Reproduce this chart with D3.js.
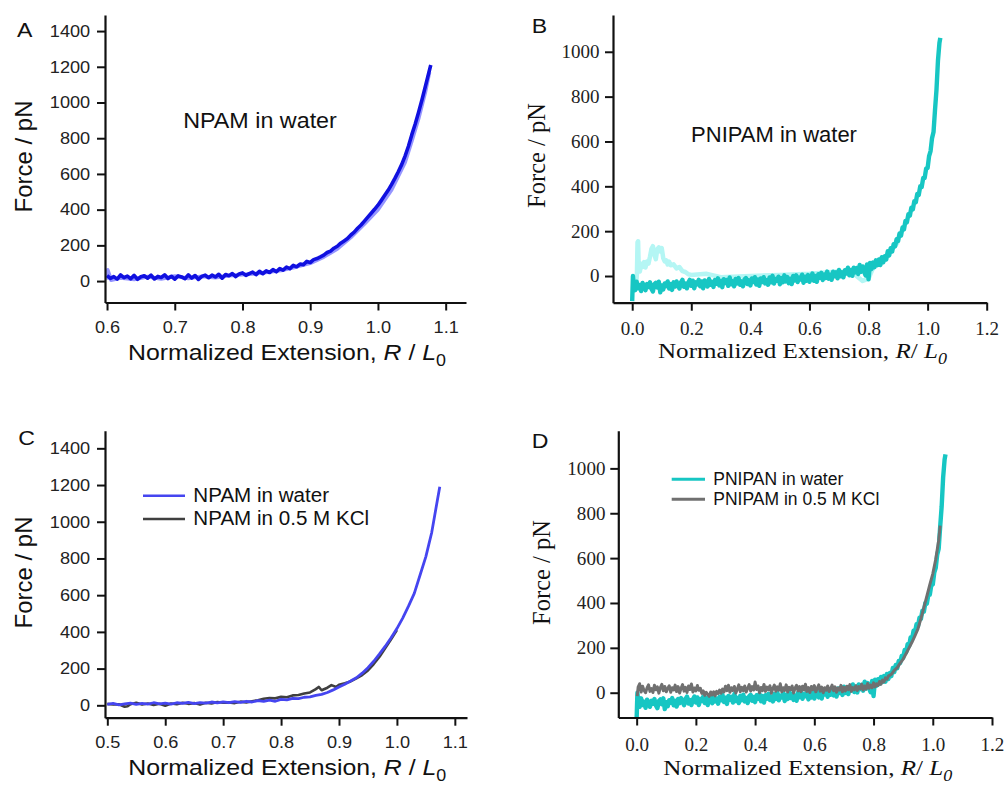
<!DOCTYPE html>
<html><head><meta charset="utf-8">
<script src="https://cdn.jsdelivr.net/npm/d3@7"></script>
<style>body{margin:0;background:#fff}svg{display:block}</style>
</head><body><svg id="c" width="1008" height="785"></svg>
<script>
// ---------------- data ----------------
const yTicksNPAM = [0, 200, 400, 600, 800, 1000, 1200, 1400];
const yTicksPNIPAM = [0, 200, 400, 600, 800, 1000];
const xTicksA = [0.6, 0.7, 0.8, 0.9, 1.0, 1.1];
const xTicksC = [0.5, 0.6, 0.7, 0.8, 0.9, 1.0, 1.1];
const xTicksBD = [0.0, 0.2, 0.4, 0.6, 0.8, 1.0, 1.2];

// Panel A: NPAM in water (two traces)
const npamWaterA = [[0.600,31],[0.605,15],[0.610,25],[0.615,11],[0.620,34],[0.625,19],[0.630,28],[0.635,13],[0.640,32],[0.645,10],[0.650,24],[0.655,30],[0.660,16],[0.665,33],[0.670,12],[0.675,26],[0.680,20],[0.685,35],[0.690,14],[0.695,27],[0.700,11],[0.705,29],[0.710,23],[0.715,13],[0.720,35],[0.725,17],[0.730,31],[0.735,9],[0.740,26],[0.745,33],[0.750,19],[0.755,33],[0.760,23],[0.765,38],[0.770,16],[0.775,37],[0.780,30],[0.785,42],[0.790,25],[0.795,40],[0.800,46],[0.805,32],[0.810,42],[0.815,50],[0.820,36],[0.825,55],[0.830,41],[0.835,57],[0.840,48],[0.845,64],[0.850,52],[0.855,70],[0.860,61],[0.865,78],[0.870,70],[0.875,88],[0.880,80],[0.885,95],[0.890,92],[0.895,110],[0.900,104],[0.905,120],[0.910,126],[0.915,135],[0.920,145],[0.925,160],[0.930,168],[0.935,184],[0.940,195],[0.945,212],[0.950,225],[0.955,238],[0.960,258],[0.965,274],[0.970,296],[0.975,314],[0.980,336],[0.985,358],[0.990,380],[0.995,402],[1.000,425],[1.005,452],[1.010,480],[1.015,508],[1.020,540],[1.025,575],[1.030,612],[1.035,652],[1.040,700],[1.045,755],[1.050,820],[1.055,880],[1.060,945],[1.065,1015],[1.070,1090],[1.075,1165],[1.078,1210]];
const npamWaterA2 = [[0.600,8],[0.601,62],[0.603,40],[0.606,5],[0.620,18],[0.640,10],[0.660,25],[0.680,12],[0.700,28],[0.720,15],[0.740,26],[0.760,20],[0.780,30],[0.800,36],[0.820,42],[0.840,52],[0.860,62],[0.880,80],[0.900,100],[0.920,135],[0.940,180],[0.960,245],[0.980,320],[1.000,400],[1.020,510],[1.040,665],[1.050,785],[1.060,910],[1.070,1060],[1.076,1170]];

// Panel B / D: PNIPAM in water
const pnipamWater = [[0.000,-112],[0.0025,0],[0.005,-33],[0.010,-63],[0.015,-25],[0.020,-55],[0.025,-40],[0.030,-67],[0.035,-31],[0.040,-43],[0.045,-63],[0.050,-36],[0.055,-49],[0.060,-28],[0.065,-57],[0.070,-69],[0.075,-37],[0.080,-30],[0.085,-51],[0.090,-25],[0.095,-73],[0.100,-42],[0.105,-60],[0.110,-33],[0.115,-45],[0.120,-24],[0.125,-56],[0.130,-36],[0.135,-62],[0.140,-28],[0.145,-47],[0.150,-24],[0.155,-40],[0.160,-56],[0.165,-28],[0.170,-17],[0.175,-48],[0.180,-33],[0.185,-55],[0.190,-29],[0.195,-17],[0.200,-44],[0.205,-21],[0.210,-55],[0.215,-28],[0.220,-37],[0.225,-17],[0.230,-46],[0.235,-24],[0.240,-55],[0.245,-20],[0.250,-31],[0.255,-47],[0.260,-13],[0.265,-39],[0.270,-26],[0.275,-49],[0.280,-18],[0.285,-34],[0.290,-10],[0.295,-42],[0.300,-22],[0.305,-50],[0.310,-14],[0.315,-31],[0.320,-18],[0.325,-44],[0.330,-6],[0.335,-37],[0.340,-23],[0.345,-46],[0.350,-13],[0.355,-33],[0.360,-9],[0.365,-39],[0.370,-24],[0.375,-46],[0.380,-16],[0.385,-9],[0.390,-36],[0.395,-19],[0.400,-42],[0.405,-11],[0.410,-27],[0.415,-5],[0.420,-38],[0.425,-15],[0.430,-44],[0.435,-11],[0.440,-27],[0.445,-5],[0.450,-33],[0.455,-18],[0.460,-39],[0.465,-6],[0.470,-28],[0.475,1],[0.480,-34],[0.485,-13],[0.490,-21],[0.495,-3],[0.500,-37],[0.505,-9],[0.510,-28],[0.515,3],[0.520,-24],[0.525,-5],[0.530,-32],[0.535,-12],[0.540,-36],[0.545,0],[0.550,-20],[0.555,3],[0.560,-27],[0.565,-7],[0.570,-15],[0.575,6],[0.580,-30],[0.585,-3],[0.590,-21],[0.595,4],[0.600,-26],[0.605,-6],[0.610,11],[0.615,-21],[0.620,0],[0.625,-26],[0.630,8],[0.635,-8],[0.640,14],[0.645,-18],[0.650,7],[0.655,-9],[0.660,20],[0.665,-12],[0.670,6],[0.675,-17],[0.680,19],[0.685,-1],[0.690,17],[0.695,-10],[0.700,27],[0.705,-1],[0.710,17],[0.715,-6],[0.720,26],[0.725,11],[0.730,37],[0.735,3],[0.740,27],[0.745,1],[0.750,37],[0.755,16],[0.760,36],[0.765,9],[0.770,49],[0.775,19],[0.780,43],[0.785,19],[0.790,2],[0.795,52],[0.800,-15],[0.805,58],[0.810,31],[0.815,60],[0.820,39],[0.825,70],[0.830,48],[0.835,74],[0.840,49],[0.845,84],[0.850,61],[0.855,88],[0.860,74],[0.865,110],[0.870,92],[0.875,124],[0.880,109],[0.885,142],[0.890,133],[0.895,164],[0.900,156],[0.905,190],[0.910,180],[0.915,216],[0.920,208],[0.925,246],[0.930,240],[0.935,276],[0.940,270],[0.945,305],[0.950,297],[0.955,334],[0.960,329],[0.965,366],[0.970,362],[0.975,400],[0.980,397],[0.985,437],[0.990,437],[0.995,479],[1.000,482],[1.005,535],[1.010,557],[1.015,615],[1.020,642],[1.025,740],[1.030,830],[1.035,960],[1.040,1040],[1.043,1062]];
const pnipamWater2 = [[0.012,-60],[0.016,10],[0.018,150],[0.020,155],[0.022,40],[0.026,20],[0.030,55],[0.035,40],[0.040,62],[0.045,38],[0.050,65],[0.055,55],[0.060,85],[0.065,120],[0.070,133],[0.075,95],[0.080,75],[0.085,120],[0.090,128],[0.095,110],[0.100,125],[0.105,80],[0.110,65],[0.115,70],[0.120,52],[0.125,64],[0.130,48],[0.140,52],[0.150,34],[0.160,40],[0.170,22],[0.180,18],[0.190,8],[0.200,5],[0.250,10],[0.300,-5],[0.400,0],[0.500,5],[0.600,10],[0.700,20],[0.750,10],[0.780,-22],[0.800,-12],[0.820,50],[0.860,90],[0.900,150]];

// Panel C: NPAM in 0.5 M KCl vs water
const npamWaterC = [[0.50,5],[0.51,10],[0.52,3],[0.53,8],[0.54,12],[0.55,5],[0.56,10],[0.57,6],[0.58,14],[0.59,8],[0.60,12],[0.61,6],[0.62,14],[0.63,10],[0.64,16],[0.65,9],[0.66,15],[0.67,12],[0.68,18],[0.69,13],[0.70,19],[0.71,14],[0.72,20],[0.73,16],[0.74,22],[0.75,18],[0.76,25],[0.77,21],[0.78,28],[0.79,22],[0.80,32],[0.81,30],[0.82,38],[0.83,36],[0.84,44],[0.85,46],[0.86,54],[0.87,60],[0.88,70],[0.89,84],[0.90,100],[0.91,115],[0.92,132],[0.93,150],[0.94,175],[0.95,205],[0.96,240],[0.97,280],[0.98,322],[0.99,368],[1.00,418],[1.01,475],[1.02,540],[1.03,610],[1.04,710],[1.05,810],[1.055,875],[1.06,940],[1.065,1030],[1.07,1120],[1.074,1190]];
const npamKClC = [[0.50,8],[0.51,4],[0.52,6],[0.53,-8],[0.535,-5],[0.54,6],[0.55,14],[0.56,4],[0.57,10],[0.58,2],[0.59,8],[0.60,-2],[0.61,10],[0.62,6],[0.63,14],[0.64,8],[0.65,12],[0.66,4],[0.67,14],[0.68,10],[0.69,18],[0.70,14],[0.71,16],[0.72,12],[0.73,20],[0.74,16],[0.75,22],[0.76,28],[0.77,36],[0.78,40],[0.79,38],[0.80,46],[0.81,44],[0.82,54],[0.83,56],[0.84,64],[0.85,70],[0.86,88],[0.865,100],[0.87,82],[0.88,96],[0.887,110],[0.895,100],[0.90,112],[0.91,120],[0.92,130],[0.93,147],[0.94,165],[0.95,190],[0.96,225],[0.97,265],[0.98,312],[0.99,360],[1.00,410]];

// Panel D: PNIPAM in 0.5 M KCl
const pnipamKCl = [[0.002,-15],[0.005,25],[0.010,40],[0.015,3],[0.020,29],[0.025,10],[0.030,0],[0.035,21],[0.040,35],[0.045,6],[0.050,18],[0.055,1],[0.060,33],[0.065,13],[0.070,26],[0.075,-2],[0.080,23],[0.085,37],[0.090,9],[0.095,28],[0.100,4],[0.105,19],[0.110,31],[0.115,2],[0.120,22],[0.125,12],[0.130,34],[0.135,5],[0.140,27],[0.145,-1],[0.150,20],[0.155,36],[0.160,7],[0.165,24],[0.170,1],[0.175,30],[0.180,14],[0.185,39],[0.190,3],[0.195,21],[0.200,8],[0.205,32],[0.210,11],[0.215,20],[0.220,-3],[0.225,8],[0.230,-12],[0.235,2],[0.240,-8],[0.245,-16],[0.250,3],[0.255,-10],[0.260,4],[0.265,-14],[0.270,6],[0.275,-4],[0.280,12],[0.285,-2],[0.290,16],[0.295,4],[0.300,29],[0.305,9],[0.310,33],[0.315,2],[0.320,22],[0.325,10],[0.330,28],[0.335,-1],[0.340,17],[0.345,35],[0.350,5],[0.355,24],[0.360,9],[0.365,30],[0.370,3],[0.375,20],[0.380,36],[0.385,8],[0.390,27],[0.395,12],[0.400,48],[0.405,14],[0.410,30],[0.415,0],[0.420,23],[0.425,9],[0.430,37],[0.435,6],[0.440,25],[0.445,13],[0.450,31],[0.455,-2],[0.460,19],[0.465,34],[0.470,7],[0.475,26],[0.480,11],[0.485,40],[0.490,4],[0.495,22],[0.500,10],[0.505,35],[0.510,3],[0.515,24],[0.520,13],[0.525,30],[0.530,-1],[0.535,21],[0.540,33],[0.545,8],[0.550,27],[0.555,5],[0.560,29],[0.565,12],[0.570,38],[0.575,6],[0.580,23],[0.585,1],[0.590,28],[0.595,14],[0.600,32],[0.605,4],[0.610,20],[0.615,35],[0.620,7],[0.625,25],[0.630,0],[0.635,22],[0.640,11],[0.645,30],[0.650,5],[0.655,18],[0.660,34],[0.665,9],[0.670,26],[0.675,2],[0.680,21],[0.685,12],[0.690,33],[0.695,4],[0.700,24],[0.705,8],[0.710,29],[0.715,14],[0.720,36],[0.725,6],[0.730,23],[0.735,13],[0.740,31],[0.745,10],[0.750,27],[0.755,17],[0.760,38],[0.765,12],[0.770,30],[0.775,16],[0.780,41],[0.785,20],[0.790,34],[0.795,22],[0.800,44],[0.805,26],[0.810,40],[0.815,32],[0.820,50],[0.825,38],[0.830,56],[0.835,48],[0.840,66],[0.845,60],[0.850,74],[0.860,82],[0.870,100],[0.880,112],[0.890,132],[0.900,150],[0.910,175],[0.920,200],[0.930,226],[0.940,255],[0.950,285],[0.960,330],[0.970,380],[0.980,430],[0.990,482],[1.000,530],[1.010,595],[1.020,680],[1.025,745]];

const legendC = ["NPAM in water", "NPAM in 0.5 M KCl"];
const legendD = ["PNIPAN in water", "PNIPAM in 0.5 M KCl"];

// ---------------- drawing ----------------
const SANS = "'Liberation Sans', Arial, Helvetica, sans-serif";
const SERIF = "'Liberation Serif', 'Times New Roman', serif";
const svg = d3.select("#c");

function label(x, y, str, o) {
  o = o || {};
  const t = svg.append("text")
    .attr("transform", `translate(${x},${y})` + (o.rot ? ` rotate(${o.rot})` : "") + ` scale(${o.sx || 1},1)`)
    .attr("font-family", o.font || SANS)
    .attr("font-size", o.size || 20)
    .attr("text-anchor", o.anchor || "start")
    .attr("fill", "#111");
  if (typeof str === "string") t.text(str);
  return t;
}

function extTitle(x, y, o, serif) {
  const t = label(x, y, null, o);
  t.append("tspan").text("Normalized Extension, ");
  t.append("tspan").attr("font-style", "italic").text("R");
  t.append("tspan").text(serif ? "/ " : " / ");
  t.append("tspan").attr("font-style", "italic").text("L");
  t.append("tspan").attr("dy", 6).attr("font-size", "72%").attr("font-style", serif ? "italic" : "normal").text("0");
}

function panel(p) {
  const x = d3.scaleLinear().domain(p.xDomain).range(p.xRange);
  const y = d3.scaleLinear().domain(p.yDomain).range(p.yRange);
  const g = svg.append("g");
  const clipId = "clip" + p.id;
  svg.append("clipPath").attr("id", clipId).append("rect")
    .attr("x", p.xRange[0]).attr("y", p.yRange[1])
    .attr("width", p.xRange[1] - p.xRange[0]).attr("height", p.yRange[0] - p.yRange[1]);

  const line = d3.line().x(d => x(d[0])).y(d => y(d[1]));
  const plot = g.append("g").attr("clip-path", `url(#${clipId})`);
  p.series.forEach(s => {
    plot.append("path").datum(s.data)
      .attr("d", line).attr("fill", "none")
      .attr("stroke", s.color).attr("stroke-width", s.width)
      .attr("stroke-opacity", s.opacity || 1)
      .attr("stroke-linejoin", "round");
  });

  const xa = g.append("g").attr("transform", `translate(0,${p.yRange[0]})`)
    .call(d3.axisBottom(x).tickValues(p.xTicks).tickSize(8).tickSizeOuter(0)
      .tickPadding(p.xPad).tickFormat(d3.format(".1f")));
  const ya = g.append("g").attr("transform", `translate(${p.xRange[0]},0)`)
    .call(d3.axisLeft(y).tickValues(p.yTicks).tickSize(8).tickSizeOuter(0)
      .tickPadding(p.yPad).tickFormat(d3.format("d")));
  [xa, ya].forEach(a => {
    a.select(".domain").attr("stroke", "#111").attr("stroke-width", 2.2);
    a.selectAll(".tick line").attr("stroke", "#111").attr("stroke-width", 2);
    a.selectAll(".tick text").attr("font-family", p.tickFont).attr("font-size", p.tickSize)
      .attr("fill", "#222").attr("transform", `scale(${p.tickSx},1)`);
  });
}

// Panel A
panel({id: "A", xDomain: [0.597, 1.13], xRange: [105, 466], yDomain: [-120, 1490], yRange: [302.5, 15],
  xTicks: xTicksA, yTicks: yTicksNPAM, tickFont: SANS, tickSize: 16.5, tickSx: 1.1, xPad: 11, yPad: 5.5,
  series: [{data: npamWaterA2, color: "#8a8aff", width: 3.8, opacity: 0.9},
           {data: npamWaterA, color: "#1010e0", width: 3.6}]});
// Panel B
panel({id: "B", xDomain: [-0.065, 1.2], xRange: [613, 986.7], yDomain: [-119, 1164], yRange: [302.7, 15],
  xTicks: xTicksBD, yTicks: yTicksPNIPAM, tickFont: SERIF, tickSize: 18.5, tickSx: 1.03, xPad: 11, yPad: 5,
  series: [{data: pnipamWater2, color: "#b4f6f4", width: 4.5},
           {data: pnipamWater, color: "#17c6c3", width: 4.4}]});
// Panel C
panel({id: "C", xDomain: [0.496, 1.121], xRange: [105, 467], yDomain: [-67.5, 1496], yRange: [717.7, 430.7],
  xTicks: xTicksC, yTicks: yTicksNPAM, tickFont: SANS, tickSize: 16.5, tickSx: 1.1, xPad: 11, yPad: 5.5,
  series: [{data: npamKClC, color: "#404040", width: 2.6},
           {data: npamWaterC, color: "#4545f0", width: 2.8}]});
// Panel D
panel({id: "D", xDomain: [-0.062, 1.2], xRange: [618.3, 992], yDomain: [-110.5, 1168], yRange: [717.5, 430.7],
  xTicks: xTicksBD, yTicks: yTicksPNIPAM, tickFont: SERIF, tickSize: 18.5, tickSx: 1.03, xPad: 12, yPad: 4.5,
  series: [{data: pnipamWater, color: "#17c6c3", width: 4.4},
           {data: pnipamKCl, color: "#707070", width: 3}]});

// Panel letters
label(17, 36.7, "A", {size: 21, sx: 1.1});
label(531.7, 33.3, "B", {size: 21, sx: 1.1});
label(18.3, 445, "C", {size: 21, sx: 1.1});
label(531.7, 448.3, "D", {size: 21, sx: 1.1});

// Axis titles
extTitle(128, 360, {size: 22, sx: 1.13}, false);
label(31.5, 156.5, "Force / pN", {size: 24, rot: -90, anchor: "middle"});
extTitle(658, 358.3, {size: 22, sx: 1.14, font: SERIF}, true);
label(545, 155.5, "Force / pN", {size: 24.5, rot: -90, anchor: "middle", font: SERIF});
extTitle(128.3, 775, {size: 22, sx: 1.13}, false);
label(31.5, 572.5, "Force / pN", {size: 24, rot: -90, anchor: "middle"});
extTitle(663.3, 775, {size: 22, sx: 1.14, font: SERIF}, true);
label(550, 572.5, "Force / pN", {size: 24.5, rot: -90, anchor: "middle", font: SERIF});

// Annotations
label(260, 127.7, "NPAM in water", {size: 22, anchor: "middle", sx: 1.06});
label(774, 141.7, "PNIPAM in water", {size: 22, anchor: "middle"});

// Legends
const legC = [{y: 495.7, color: "#4545f0"}, {y: 519, color: "#404040"}];
legC.forEach((l, i) => {
  svg.append("line").attr("x1", 143).attr("x2", 185).attr("y1", l.y).attr("y2", l.y)
    .attr("stroke", l.color).attr("stroke-width", 2.6);
  label(193.3, l.y + 6.3, legendC[i], {size: 20, sx: 1.03});
});
const legD = [{y: 479.3, color: "#17c6c3"}, {y: 499.3, color: "#707070"}];
legD.forEach((l, i) => {
  svg.append("line").attr("x1", 671.7).attr("x2", 705).attr("y1", l.y).attr("y2", l.y)
    .attr("stroke", l.color).attr("stroke-width", 3);
  label(713.3, l.y + 5.8, legendD[i], {size: 17.5});
});
</script></body></html>
